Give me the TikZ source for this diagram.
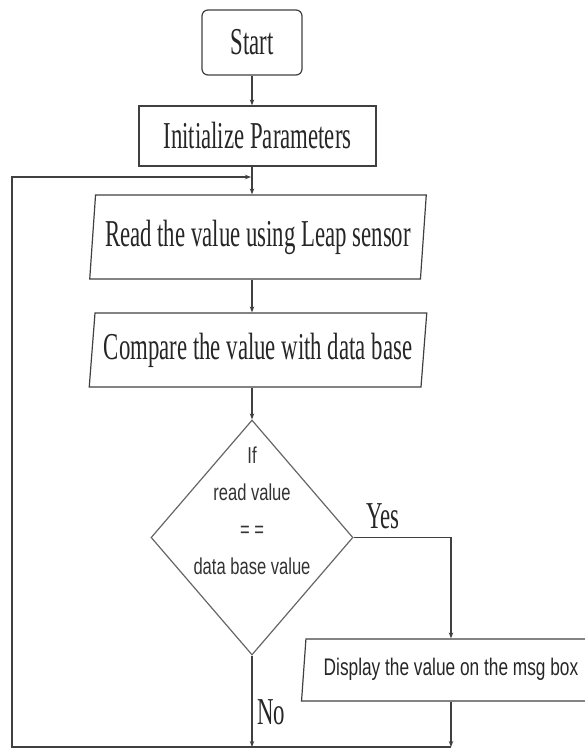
\documentclass[tikz,border=0pt]{standalone}
\usepackage{fontspec}
\usetikzlibrary{shapes.geometric,arrows.meta}
\newfontfamily\boxfont[FakeStretch=0.6]{Liberation Serif}
\newfontfamily\condsans[FakeStretch=0.72]{Liberation Sans}
\tikzset{
  line/.style={draw=black!75, line width=1.2pt},
  proc/.style={line, rectangle, inner sep=0pt, text=black!85,
    font=\boxfont\fontsize{38}{40}\selectfont},
  inout/.style={proc, trapezium, trapezium left angle=81, trapezium right angle=99,
    trapezium stretches=true},
  decision/.style={diamond, draw=black!60, line width=1.2pt, inner sep=0pt,
    minimum width=202pt, minimum height=235pt},
  arr/.style={line, -{Stealth[length=6pt,width=4.5pt]}}
}
\begin{document}
\begin{tikzpicture}[x=1pt,y=-1pt]
    \useasboundingbox (0,0) rectangle (585,749);

    \node (start) at (252,42.5) [proc, rounded corners=6pt, minimum width=100pt, minimum height=65pt] {\raisebox{-3pt}{Start}};
    \node (init) at (257.5,136) [proc, minimum width=237pt, minimum height=60pt] {Initialize Parameters};
    \node (read) at (258,237) [inout, minimum width=338pt, minimum height=84pt] {\raisebox{6pt}{Read the value using Leap sensor}};
    \node (cmp) at (258,350) [inout, minimum width=338pt, minimum height=74pt] {\raisebox{7pt}{Compare the value with data base}};
    \node (chk) at (252,537.5) [decision] {};
    \node (chktxt) at (252,511) [align=center, text=black!80,
        font=\condsans\fontsize{23}{37}\selectfont] {If\\read value\\= =\\data base value};
    \node (disp) at (451,670) [inout, minimum width=300pt, minimum height=62pt,
        font=\condsans\fontsize{24}{26}\selectfont] {\raisebox{7pt}{Display the value on the msg box}};

    \node (yes) at (383,516) [text=black!85, font=\boxfont\fontsize{38}{40}\selectfont] {Yes};
    \node (no) at (271,712) [text=black!85, font=\boxfont\fontsize{38}{40}\selectfont] {No};

    \coordinate (join) at (252,177);
    \coordinate (botL) at (12,747);
    \coordinate (botR) at (451,747);

    % main line
    \draw[arr] (start.south -| join) -- (init.north -| join);
    \draw[line] (init.south -| join) -- (join);
    \draw[arr] (join) -- (read.north -| join);
    \draw[arr] (read.south -| join) -- (cmp.north -| join);
    \draw[arr] (cmp.south -| join) -- (chk.north);

    % yes / no
    \draw[arr] (chk.east) -| (disp.north -| botR);
    \draw[arr] (chk.south) -- (chk.south |- botL);
    \draw[arr] (disp.south -| botR) -- (botR);

    % loop back
    \draw[arr] (botR) -- (botL) -- (botL |- join) -- ([xshift=-1pt]join);
\end{tikzpicture}
\end{document}
